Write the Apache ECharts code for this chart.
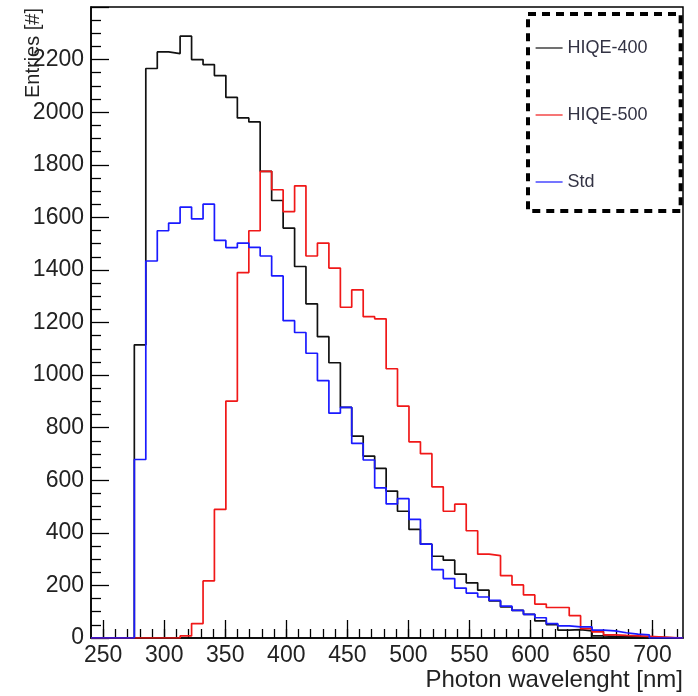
<!DOCTYPE html>
<html>
<head>
<meta charset="utf-8">
<script src="https://cdn.jsdelivr.net/npm/echarts@6/dist/echarts.min.js"></script>
<style>html,body{margin:0;padding:0;background:#fff}#c{width:698px;height:696px}</style>
</head>
<body>
<div id="c"></div>
<script>
// Bin edges (nm), 45 bins
const binEdges = [275.5, 284.9, 294.3, 303.6, 313.0, 322.4, 331.8, 341.1, 350.5, 359.9,
  369.3, 378.6, 388.0, 397.4, 406.8, 416.1, 425.5, 434.9, 444.3, 453.6,
  463.0, 472.4, 481.8, 491.1, 500.5, 509.9, 519.3, 528.6, 538.0, 547.4,
  556.8, 566.1, 575.5, 584.9, 594.3, 603.6, 613.0, 622.4, 631.8, 641.1,
  650.5, 659.9, 669.3, 678.6, 688.0, 697.4];

const hiqe400 = [1115, 2166, 2229, 2223, 2289, 2200, 2181, 2139, 2056, 1978,
  1963, 1775, 1664, 1559, 1413, 1271, 1146, 1047, 877, 768,
  692, 645, 559, 482, 413, 357, 311, 296, 243, 210,
  182, 141, 118, 105, 90, 65, 51, 30, 32, 27,
  8, 6, 5, 4, 3];

const hiqe500 = [0, 0, 0, 0, 8, 55, 217, 489, 901, 1390,
  1549, 1775, 1705, 1622, 1720, 1453, 1502, 1407, 1258, 1324,
  1222, 1214, 1024, 882, 746, 701, 575, 482, 509, 408,
  319, 313, 237, 202, 164, 129, 116, 116, 85, 36,
  23, 12, 10, 8, 6];

const stdVals = [679, 1434, 1549, 1578, 1639, 1594, 1650, 1512, 1485, 1502,
  1486, 1453, 1377, 1207, 1162, 1083, 979, 855, 877, 740,
  677, 571, 510, 530, 451, 357, 260, 226, 190, 171,
  156, 143, 121, 105, 90, 77, 55, 46, 42, 42,
  30, 27, 20, 15, 12];

const xMajorTicks = [250, 300, 350, 400, 450, 500, 550, 600, 650, 700];
const xMin = 240, xMax = 725;

function stepData(vals) {
  const d = [[xMin, 0]];
  vals.forEach((v, i) => d.push([binEdges[i], v]));
  d.push([binEdges[vals.length], 0]);
  d.push([xMax, 0]);
  return d;
}

const FONT = 'Liberation Sans, Arial, sans-serif';
const chart = echarts.init(document.getElementById('c'), null, {renderer: 'canvas'});

function histSeries(name, vals, color) {
  return {
    name: name, type: 'line', step: 'end', xAxisIndex: 0, yAxisIndex: 0,
    data: stepData(vals), symbol: 'none', showSymbol: false,
    lineStyle: {color: color, width: 1.7}, itemStyle: {color: color},
    animation: false
  };
}

chart.setOption({
  animation: false,
  backgroundColor: '#fff',
  grid: {left: 91, right: 15, top: 7, bottom: 58, show: true, borderColor: '#000', borderWidth: 1.5, containLabel: false},
  xAxis: [{
    type: 'value', min: xMin, max: xMax, interval: 10, position: 'bottom',
    name: 'Photon wavelenght [nm]', nameLocation: 'end', nameGap: 0,
    nameTextStyle: {fontFamily: FONT, fontSize: 24, color: '#222', align: 'right', verticalAlign: 'top', padding: [30, 0, 0, 0]},
    axisLine: {show: true, onZero: false, lineStyle: {color: '#000', width: 1.5}},
    axisTick: {show: true, inside: true, length: 9, lineStyle: {color: '#000', width: 1.3}},
    axisLabel: {show: true, margin: 6, fontFamily: FONT, fontSize: 23, color: '#222',
      showMinLabel: false, showMaxLabel: false,
      formatter: v => (v % 50 === 0 ? String(v) : '')},
    splitLine: {show: false}
  }, {
    type: 'value', min: xMin, max: xMax, position: 'bottom', gridIndex: 0,
    axisLine: {show: false, onZero: false},
    axisTick: {show: true, inside: true, length: 18, customValues: xMajorTicks, lineStyle: {color: '#000', width: 1.3}},
    axisLabel: {show: false},
    splitLine: {show: false}
  }],
  yAxis: {
    type: 'value', min: 0, max: 2400, interval: 200,
    axisLine: {show: true, lineStyle: {color: '#000', width: 1.5}},
    axisTick: {show: true, inside: true, length: 18, lineStyle: {color: '#000', width: 1.3}},
    minorTick: {show: true, splitNumber: 4, length: 10, lineStyle: {color: '#000', width: 1.3}},
    axisLabel: {margin: 7, fontFamily: FONT, fontSize: 23, color: '#222', showMaxLabel: false,
      formatter: v => String(v)},
    splitLine: {show: false}, minorSplitLine: {show: false}
  },
  legend: {
    orient: 'vertical', left: 528, top: 14,
    padding: [24, 33, 19, 7],
    itemWidth: 27, itemHeight: 14, itemGap: 47,
    data: ['HIQE-400', 'HIQE-500', 'Std'],
    textStyle: {fontFamily: FONT, fontSize: 18, color: '#334', lineHeight: 20},
    lineStyle: {width: 1.2},
    itemStyle: {opacity: 0, borderWidth: 0},
    borderColor: '#000', borderWidth: 4, borderType: [8, 6],
    backgroundColor: '#fff'
  },
  graphic: [{
    type: 'text', x: 23, y: 8, rotation: Math.PI / 2,
    style: {text: 'Entries [#]', font: '20px ' + FONT, fill: '#222',
      textAlign: 'right', align: 'right', textVerticalAlign: 'top', verticalAlign: 'top'}
  }],
  series: [
    histSeries('HIQE-400', hiqe400, '#111111'),
    histSeries('HIQE-500', hiqe500, '#f01818'),
    histSeries('Std', stdVals, '#1a1aff')
  ]
});
</script>
</body>
</html>
